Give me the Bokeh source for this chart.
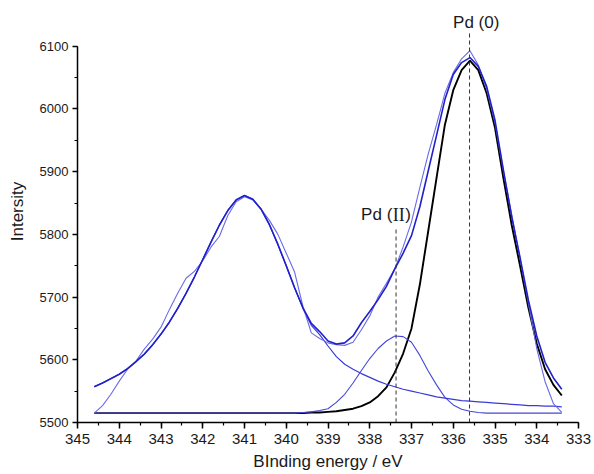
from bokeh.plotting import figure
from bokeh.models import ColumnDataSource, Range1d, SingleIntervalTicker
from bokeh.core.properties import value
from bokeh.embed import file_html
from bokeh.resources import INLINE

# ---- data ----
energy = [344.6, 344.4, 344.2, 344.0, 343.8, 343.6, 343.4, 343.2, 343.0, 342.8,
          342.6, 342.4, 342.2, 342.0, 341.8, 341.6, 341.4, 341.2, 341.0, 340.8,
          340.6, 340.4, 340.2, 340.0, 339.8, 339.6, 339.4, 339.2, 339.0, 338.8,
          338.6, 338.4, 338.2, 338.0, 337.8, 337.6, 337.4, 337.2, 337.0, 336.8,
          336.6, 336.4, 336.2, 336.0, 335.8, 335.6, 335.4, 335.2, 335.0, 334.8,
          334.6, 334.4, 334.2, 334.0, 333.8, 333.6, 333.4]

raw = [5515, 5527, 5545, 5566, 5585, 5598, 5617, 5633, 5652, 5680,
       5706, 5730, 5741, 5758, 5780, 5797, 5830, 5852, 5860, 5855,
       5840, 5822, 5800, 5770, 5740, 5685, 5643, 5634, 5627, 5624,
       5623, 5628, 5648, 5670, 5700, 5722, 5745, 5780, 5820, 5875,
       5928, 5975, 6025, 6058, 6080, 6093, 6070, 6032, 5978, 5902,
       5832, 5762, 5690, 5618, 5565, 5530, 5516]

envelope = [5557, 5563, 5570, 5577, 5586, 5597, 5609, 5624, 5641, 5660,
            5682, 5706, 5732, 5760, 5788, 5815, 5838, 5855, 5862, 5856,
            5840, 5815, 5784, 5750, 5715, 5683, 5658, 5645, 5630, 5625,
            5627, 5638, 5659, 5677, 5696, 5717, 5745, 5770, 5798, 5844,
            5901, 5958, 6015, 6055, 6074, 6082, 6068, 6036, 5982, 5903,
            5828, 5763, 5695, 5638, 5596, 5571, 5553]

peak_341 = [5557, 5563, 5570, 5577, 5586, 5597, 5609, 5624, 5641, 5660,
            5682, 5706, 5732, 5760, 5788, 5815, 5838, 5855, 5862, 5856,
            5840, 5815, 5784, 5750, 5715, 5682, 5655, 5640, 5622, 5605,
            5593, 5585, 5578, 5572, 5566, 5561, 5557, 5553, 5550, 5547,
            5544, 5541, 5539, 5537, 5535, 5534, 5533, 5532, 5531, 5530,
            5529, 5528, 5527, 5527, 5526, 5526, 5525]

pd2 = [5515, 5515, 5515, 5515, 5515, 5515, 5515, 5515, 5515, 5515,
       5515, 5515, 5515, 5515, 5515, 5515, 5515, 5515, 5515, 5515,
       5515, 5515, 5515, 5515, 5515, 5516, 5517, 5519, 5522, 5532,
       5545, 5563, 5583, 5602, 5618, 5630, 5638, 5637, 5628, 5607,
       5582, 5560, 5540, 5528, 5521, 5518, 5516, 5515, 5515, 5515,
       5515, 5515, 5515, 5515, 5515, 5515, 5515]

pd0 = [5515, 5515, 5515, 5515, 5515, 5515, 5515, 5515, 5515, 5515,
       5515, 5515, 5515, 5515, 5515, 5515, 5515, 5515, 5515, 5515,
       5515, 5515, 5515, 5515, 5515, 5515, 5516, 5516, 5517, 5518,
       5520, 5522, 5526, 5532, 5542, 5556, 5580, 5610, 5650, 5720,
       5805, 5890, 5975, 6030, 6062, 6077, 6062, 6025, 5970, 5890,
       5815, 5750, 5683, 5626, 5585, 5560, 5543]

# peak markers (dashed) and their labels
marker_x = [335.61, 337.37]
marker_bottom = [5500, 5500]
marker_top = [6122, 5810]

label0_x = [335.45]
label0_y = [6138]
label0_text = ["Pd (0)"]

label2_x = [337.46]
label2_y = [5831]

src = ColumnDataSource(dict(energy=energy, raw=raw, envelope=envelope,
                            peak_341=peak_341, pd2=pd2, pd0=pd0))

p = figure(width=594, height=474, output_backend="svg", toolbar_location=None,
           x_range=Range1d(345, 333), y_range=Range1d(5500, 6173),
           min_border_left=77, min_border_right=16, min_border_top=0,
           min_border_bottom=52, background_fill_color="white",
           border_fill_color="white")
p.outline_line_color = None
p.xgrid.visible = False
p.ygrid.visible = False

# lines
p.line("energy", "pd0", source=src, line_color="#000000", line_width=1.9)
p.line("energy", "pd2", source=src, line_color="#4646dc", line_width=1.1)
p.line("energy", "peak_341", source=src, line_color="#3a3ad8", line_width=1.2)
p.line("energy", "raw", source=src, line_color="#6a6ae8", line_width=1.1)
p.line("energy", "envelope", source=src, line_color="#2020cc", line_width=1.6)

# dashed markers
p.segment(x0=marker_x, y0=marker_bottom, x1=marker_x, y1=marker_top,
          line_color="#333333", line_width=1, line_dash="4 3")

# labels
p.text(x=label0_x, y=label0_y, text=label0_text, text_align="center",
       text_baseline="middle", text_font=value("Liberation Sans"),
       text_font_size="17px", text_color="#1a1a1a")
p.text(x=label2_x, y=label2_y, text=["Pd ("], text_align="right",
       text_baseline="middle", text_font=value("Liberation Sans"),
       text_font_size="17px", text_color="#1a1a1a")
p.text(x=label2_x, y=label2_y, text=["II"], text_align="left",
       text_baseline="middle", text_font=value("Liberation Serif"),
       text_font_size="18px", text_color="#1a1a1a", x_offset=0.5)
p.text(x=label2_x, y=label2_y, text=[")"], text_align="left",
       text_baseline="middle", text_font=value("Liberation Sans"),
       text_font_size="17px", text_color="#1a1a1a", x_offset=13)

# axes
p.xaxis.ticker = SingleIntervalTicker(interval=1, num_minor_ticks=2)
p.yaxis.ticker = SingleIntervalTicker(interval=100, num_minor_ticks=2)
p.yaxis.bounds = (5500, 6100)
p.xaxis.axis_label = "BInding energy / eV"
p.yaxis.axis_label = "Intersity"
for ax in (p.xaxis[0], p.yaxis[0]):
    ax.axis_line_color = "black"
    ax.axis_line_width = 1.5
    ax.major_tick_line_color = "black"
    ax.major_tick_line_width = 1.5
    ax.minor_tick_line_color = "black"
    ax.minor_tick_line_width = 1.2
    ax.major_tick_in = 0
    ax.minor_tick_in = 0
    ax.major_label_text_font = "Liberation Sans"
    ax.major_label_text_color = "#1a1a1a"
    ax.axis_label_text_font = "Liberation Sans"
    ax.axis_label_text_font_style = "normal"
    ax.axis_label_text_color = "#1a1a1a"
    ax.axis_label_text_font_size = "17px"

p.xaxis.major_tick_out = 6
p.xaxis.minor_tick_out = 3
p.xaxis.major_label_text_font_size = "15px"
p.xaxis.major_label_standoff = 5
p.xaxis.axis_label_standoff = 5

p.yaxis.major_tick_out = 5
p.yaxis.minor_tick_out = 3
p.yaxis.major_label_text_font_size = "13px"
p.yaxis.major_label_standoff = 4
p.yaxis.axis_label_standoff = 10

open("out.html", "w").write(file_html(p, INLINE))
